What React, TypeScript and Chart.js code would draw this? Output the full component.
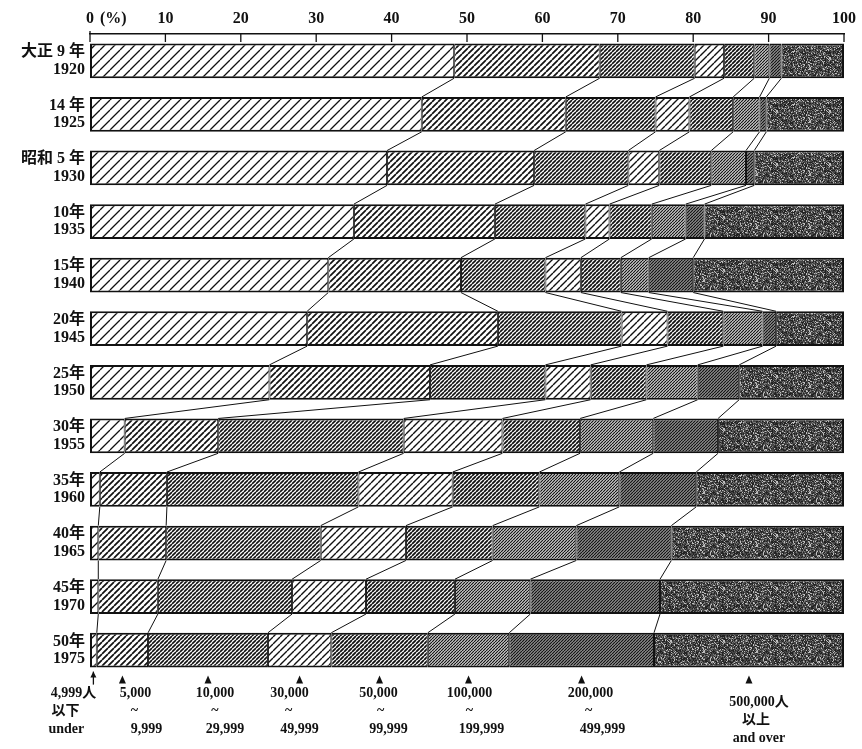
import React, { useEffect, useRef } from 'react';
import { Chart, registerables } from 'chart.js';

Chart.register(...registerables);

// ---- data ----
const years = ['1920', '1925', '1930', '1935', '1940', '1945', '1950', '1955', '1960', '1965', '1970', '1975'];
const eraLabels = ['大正 9 年', '14 年', '昭和 5 年', '10年', '15年', '20年', '25年', '30年', '35年', '40年', '45年', '50年'];

const under5k = [48.3, 44.0, 39.4, 35.0, 31.6, 28.8, 23.8, 4.6, 1.3, 1.1, 1.1, 0.9];
const from5k = [19.3, 19.1, 19.5, 18.7, 17.6, 25.3, 21.3, 12.4, 8.9, 9.0, 7.9, 6.8];
const from10k = [12.6, 11.9, 12.5, 12.0, 11.2, 16.4, 15.3, 24.6, 25.4, 20.5, 17.8, 15.9];
const from30k = [3.9, 4.5, 4.1, 3.2, 4.7, 6.1, 6.0, 13.1, 12.5, 11.3, 9.8, 8.4];
const from50k = [4.0, 5.8, 6.9, 5.6, 5.3, 7.4, 7.4, 10.3, 11.5, 11.5, 11.8, 12.8];
const from100k = [2.0, 3.5, 4.6, 4.5, 3.7, 5.2, 6.8, 9.7, 10.6, 11.1, 10.0, 10.8];
const from200k = [1.6, 0.9, 1.1, 2.5, 5.9, 1.8, 5.5, 8.6, 10.2, 12.6, 17.2, 19.2];
const over500k = [8.3, 10.3, 11.9, 18.5, 20.0, 9.0, 13.9, 16.7, 19.6, 22.9, 24.4, 25.2];

const sizeClassNames = [
  '4,999人以下', '5,000~9,999', '10,000~29,999', '30,000~49,999',
  '50,000~99,999', '100,000~199,999', '200,000~499,999', '500,000人以上',
];
const sizeClassCaptions = [
  ['4,999人', '以下', 'under'],
  ['5,000', '~', '9,999'],
  ['10,000', '~', '29,999'],
  ['30,000', '~', '49,999'],
  ['50,000', '~', '99,999'],
  ['100,000', '~', '199,999'],
  ['200,000', '~', '499,999'],
  ['500,000人', '以上', 'and over'],
];
const axisUnit = '(%)';

// ---- layout / style (not data) ----
const SERIF = "'Liberation Serif', 'Noto Sans CJK JP', serif";
const INK = '#111';
const captionDx = [
  [-20, -28, -27], [13, 12, 24], [7, 7, 17], [-10, -11, 0],
  [-1, 1, 9], [1, 1, 13], [9, 7, 21], [10, 7, 10],
];

function makePatterns(ctx: CanvasRenderingContext2D) {
  const hatch = (s: number, lw: number, bg: string, fg: string) => {
    const c = document.createElement('canvas');
    c.width = s; c.height = s;
    const g = c.getContext('2d')!;
    g.fillStyle = bg; g.fillRect(0, 0, s, s);
    g.strokeStyle = fg; g.lineWidth = lw;
    g.beginPath();
    for (const o of [-s, 0, s]) { g.moveTo(o, s); g.lineTo(o + s, 0); }
    g.stroke();
    return ctx.createPattern(c, 'repeat')!;
  };
  const stipple = () => {
    const n = 53;
    const c = document.createElement('canvas');
    c.width = n; c.height = n;
    const g = c.getContext('2d')!;
    const img = g.createImageData(n, n);
    for (let y = 0; y < n; y++) {
      for (let x = 0; x < n; x++) {
        let h = Math.imul(x + 17, 374761393) ^ Math.imul(y + 31, 668265263);
        h = Math.imul(h ^ (h >>> 13), 1274126177);
        h = (h ^ (h >>> 16)) >>> 0;
        const r = h % 100;
        const v = r < 12 ? 190 : r < 30 ? 120 : r < 70 ? 70 : 35;
        const p = (y * n + x) * 4;
        img.data[p] = v; img.data[p + 1] = v; img.data[p + 2] = v; img.data[p + 3] = 255;
      }
    }
    g.putImageData(img, 0, 0);
    return ctx.createPattern(c, 'repeat')!;
  };
  return [
    hatch(10, 1.3, '#fff', INK),
    hatch(6, 1.7, '#fff', INK),
    hatch(4, 1.6, '#fff', INK),
    hatch(7, 1.4, '#fff', INK),
    hatch(4, 1.8, '#fff', INK),
    hatch(3, 1.2, '#dcdcdc', INK),
    hatch(3, 1.2, '#9a9a9a', INK),
    stipple(),
  ];
}

const decorPlugin = {
  id: 'decor',
  afterDatasetsDraw(chart: any) {
    const ctx: CanvasRenderingContext2D = chart.ctx;
    const n = chart.data.labels.length;
    const metas = chart.data.datasets.map((_: any, k: number) => chart.getDatasetMeta(k));
    ctx.save();
    ctx.strokeStyle = INK;
    ctx.lineWidth = 1;
    // connector lines between consecutive bars
    for (let k = 0; k < metas.length - 1; k++) {
      for (let i = 0; i < n - 1; i++) {
        const a = metas[k].data[i];
        const b = metas[k].data[i + 1];
        ctx.beginPath();
        ctx.moveTo(a.x, a.y + a.height / 2);
        ctx.lineTo(b.x, b.y - b.height / 2);
        ctx.stroke();
      }
    }
    // inward ticks on the top axis
    const xs = chart.scales.x;
    ctx.lineWidth = 1.3;
    xs.ticks.forEach((t: any) => {
      const px = xs.getPixelForValue(t.value);
      ctx.beginPath();
      ctx.moveTo(px, xs.bottom - (t.value === 0 ? 3 : 0));
      ctx.lineTo(px, xs.bottom + 8);
      ctx.stroke();
    });
    // unit after 0
    ctx.fillStyle = INK;
    ctx.font = `bold 16px ${SERIF}`;
    ctx.textAlign = 'left';
    ctx.textBaseline = 'middle';
    ctx.fillText(axisUnit, xs.getPixelForValue(0) + 10, xs.bottom - 6 - 9.6);

    // bottom arrows + captions under the last bar
    const last = n - 1;
    ctx.font = `bold 14px ${SERIF}`;
    ctx.textAlign = 'center';
    metas.forEach((m: any, k: number) => {
      const el = m.data[last];
      const mid = (el.x + el.base) / 2;
      const yb = el.y + el.height / 2;
      ctx.fillStyle = INK;
      if (k === 0) {
        ctx.beginPath();
        ctx.moveTo(mid, yb + 4); ctx.lineTo(mid, yb + 17); ctx.stroke();
        ctx.beginPath();
        ctx.moveTo(mid, yb + 4); ctx.lineTo(mid - 3, yb + 10); ctx.lineTo(mid + 3, yb + 10); ctx.closePath(); ctx.fill();
      } else {
        ctx.beginPath();
        ctx.moveTo(mid, yb + 8); ctx.lineTo(mid - 3.5, yb + 16); ctx.lineTo(mid + 3.5, yb + 16); ctx.closePath(); ctx.fill();
      }
      const lines = sizeClassCaptions[k];
      const base = k === metas.length - 1 ? yb + 35 : yb + 26;
      lines.forEach((s: string, j: number) => {
        ctx.fillText(s, mid + captionDx[k][j], base + j * 18);
      });
    });
    ctx.restore();
  },
};

export default function App() {
  const ref = useRef<HTMLCanvasElement>(null);
  useEffect(() => {
    document.body.style.margin = '0';
    const canvas = ref.current!;
    const ctx = canvas.getContext('2d')!;
    const patterns = makePatterns(ctx);
    const series = [under5k, from5k, from10k, from30k, from50k, from100k, from200k, over500k];
    const chart = new Chart(canvas, {
      type: 'bar',
      data: {
        labels: years,
        datasets: series.map((d, k) => ({
          label: sizeClassNames[k],
          data: d,
          backgroundColor: patterns[k],
          borderColor: INK,
          borderWidth: { top: 2, bottom: 2, left: k === 0 ? 2 : 1, right: k === series.length - 1 ? 2 : 1 },
          borderSkipped: false,
          barPercentage: 0.65,
          categoryPercentage: 1,
        })),
      },
      options: {
        indexAxis: 'y',
        animation: false,
        responsive: true,
        maintainAspectRatio: false,
        layout: { padding: { top: 8, left: 0, right: 17, bottom: 72 } },
        plugins: { legend: { display: false }, tooltip: { enabled: false } },
        scales: {
          x: {
            type: 'linear',
            position: 'top',
            stacked: true,
            min: 0,
            max: 100,
            afterFit: (s: any) => { s.height = 26; },
            grid: { display: false, drawTicks: false },
            border: { display: true, color: INK, width: 1.5 },
            ticks: {
              stepSize: 10,
              padding: 6,
              color: INK,
              font: { family: SERIF, size: 16, weight: 'bold' },
              callback: (v: any) => String(v),
            },
          },
          y: {
            type: 'category',
            stacked: true,
            afterFit: (s: any) => { s.width = 90; },
            grid: { display: false, drawTicks: false },
            border: { display: false },
            ticks: {
              padding: 5,
              color: INK,
              font: { family: SERIF, size: 16, weight: 'bold', lineHeight: 1.1 },
              callback: (_v: any, i: number) => [eraLabels[i], years[i]],
            },
          },
        },
      },
      plugins: [decorPlugin],
    } as any);
    return () => chart.destroy();
  }, []);
  return (
    <div style={{ position: 'relative', width: 862, height: 749, background: '#fff' }}>
      <canvas ref={ref} />
    </div>
  );
}
